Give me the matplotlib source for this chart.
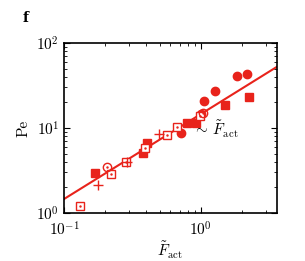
import numpy as np
import matplotlib
matplotlib.use("Agg")
import matplotlib.pyplot as plt

plt.rcParams["font.family"] = "serif"
plt.rcParams["font.serif"] = ["cmr10", "DejaVu Serif"]
plt.rcParams["mathtext.fontset"] = "cm"
plt.rcParams["axes.formatter.use_mathtext"] = True

red = "#e8231b"

# filled squares
sq_f_x = [0.168, 0.375, 0.404, 0.794, 0.928, 1.50, 2.24]
sq_f_y = [2.93, 5.04, 6.7, 11.5, 11.5, 18.5, 23.2]
# filled circles
ci_f_x = [0.711, 1.01, 1.05, 1.26, 1.84, 2.17]
ci_f_y = [8.73, 14.5, 20.9, 27.2, 41.3, 43.6]
# open squares (dotted centre)
sq_o_x = [0.131, 0.219, 0.282, 0.388, 0.565, 0.664, 0.98]
sq_o_y = [1.2, 2.88, 3.98, 5.86, 8.34, 10.3, 13.8]
# open circles
ci_o_x = [0.207, 1.04]
ci_o_y = [3.5, 14.9]
# plus markers
pl_x = [0.178, 0.29, 0.491]
pl_y = [2.12, 4.0, 8.57]

fit_x = np.array([0.1, 3.6])
fit_y = 14.6 * fit_x

fig = plt.figure(figsize=(3.05, 2.61), dpi=100)
ax = fig.add_axes([0.21, 0.184, 0.698, 0.651])

ax.plot(fit_x, fit_y, c=red, lw=1.5, zorder=1)
ax.plot(sq_f_x, sq_f_y, "s", c=red, ms=6, zorder=2)
ax.plot(ci_f_x, ci_f_y, "o", c=red, ms=6, zorder=2)
ax.plot(sq_o_x, sq_o_y, "s", mfc="white", mec=red, ms=6, mew=1, zorder=3)
ax.plot(sq_o_x, sq_o_y, ".", c=red, ms=1.5, zorder=4)
ax.plot(ci_o_x, ci_o_y, "o", mfc="none", mec=red, ms=6, mew=1, zorder=3)
ax.plot(ci_o_x, ci_o_y, ".", c=red, ms=1.5, zorder=4)
ax.plot(pl_x, pl_y, "+", c=red, ms=7, mew=1, zorder=3)

ax.set_xscale("log")
ax.set_yscale("log")
ax.set_xlim(0.1, 3.6)
ax.set_ylim(1, 100)
ax.tick_params(which="both", direction="in", top=True, right=True, labelsize=11)
ax.tick_params(which="major", length=4)
ax.tick_params(which="minor", length=2)
ax.tick_params(axis="x", pad=5)
for s in ax.spines.values():
    s.set_linewidth(1.2)

ax.set_xlabel(r"$\tilde{F}_{\mathrm{act}}$", fontsize=11, labelpad=1)
ax.set_ylabel("Pe", fontsize=11)
ax.text(0.88, 9.6, r"$\sim\,\tilde{F}_{\mathrm{act}}$", fontsize=11, va="center")
fig.text(0.075, 0.93, "f", fontsize=10, fontweight="bold", family="DejaVu Serif", va="center")

plt.savefig("out.png", dpi=100)
